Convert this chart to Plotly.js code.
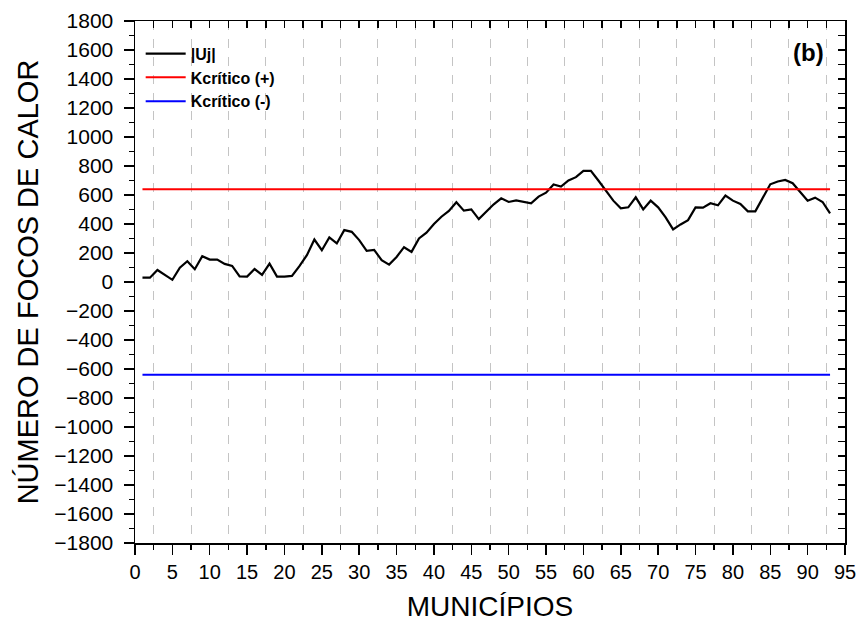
<!DOCTYPE html>
<html>
<head>
<meta charset="utf-8">
<script src="https://cdn.plot.ly/plotly-3.0.1.min.js"></script>
<style>
  html, body { margin: 0; padding: 0; background: #fff; }
  #chart { width: 859px; height: 625px; }
</style>
</head>
<body>
<div id="chart"></div>
<script>
// Municipality index (1..93)
const municipios = Array.from({length: 93}, (_, i) => i + 1);

// |Uj| statistic per municipality
const uj = [
  30, 30, 83, 46, 15, 99, 143, 88, 178, 155,
  155, 125, 111, 39, 37, 90, 49, 127, 37, 37,
  42, 109, 185, 293, 219, 307, 266, 358, 346, 289,
  215, 222, 150, 120, 173, 240, 208, 300, 340, 400,
  450, 490, 550, 492, 501, 434, 485, 536, 577, 552,
  563, 554, 543, 589, 616, 673, 658, 700, 723, 767,
  767, 700, 632, 561, 508, 515, 584, 501, 561, 515,
  446, 363, 397, 427, 514, 513, 543, 529, 596, 561,
  538, 487, 487, 577, 674, 693, 704, 681, 623, 561,
  582, 552, 474
];

// Critical value of the test (upper / lower bound)
const kCritico = 640;

// Series labels
const serieNames = ['|Uj|', 'Kcrítico (+)', 'Kcrítico (-)'];

const kPos = municipios.map(() => kCritico);
const kNeg = municipios.map(() => -kCritico);

const FONT = 'Liberation Sans, Arial, sans-serif';

const traces = [
  {x: municipios, y: uj, type: 'scatter', mode: 'lines', name: serieNames[0],
   line: {color: '#000000', width: 2.2}},
  {x: municipios, y: kPos, type: 'scatter', mode: 'lines', name: serieNames[1],
   line: {color: '#ff0000', width: 2}},
  {x: municipios, y: kNeg, type: 'scatter', mode: 'lines', name: serieNames[2],
   line: {color: '#0000ff', width: 2}},
  // carrier for the mirrored top/right tick axes
  {x: [], y: [], type: 'scatter', mode: 'lines', xaxis: 'x2', yaxis: 'y2',
   showlegend: false, hoverinfo: 'skip'}
];

const layout = {
  width: 859, height: 625,
  margin: {l: 135, r: 14, t: 21, b: 82},
  paper_bgcolor: '#ffffff', plot_bgcolor: '#ffffff',
  font: {family: FONT, color: '#000'},
  showlegend: true,
  legend: {
    x: 0.008, y: 0.97, xanchor: 'left', yanchor: 'top',
    bgcolor: 'rgba(0,0,0,0)', borderwidth: 0, itemwidth: 40,
    font: {family: FONT, size: 16, weight: 'bold', color: '#000'},
    tracegroupgap: 0
  },
  xaxis: {
    range: [0, 95], dtick: 5, tick0: 0,
    ticks: 'outside', ticklen: 10, tickwidth: 1.5, tickcolor: '#000',
    showline: true, linecolor: '#000', linewidth: 1.5, mirror: true,
    showgrid: false, zeroline: false,
    tickfont: {family: FONT, size: 20, color: '#000'},
    minor: {dtick: 2.5, tick0: 0, ticks: 'outside', ticklen: 5, tickwidth: 1.5,
            tickcolor: '#000', showgrid: true, gridcolor: '#c4c4c4',
            griddash: 'dash', gridwidth: 1},
    title: {text: 'MUNICÍPIOS', font: {family: FONT, size: 28, color: '#000'}, standoff: 15}
  },
  yaxis: {
    range: [-1800, 1800], dtick: 200, tick0: 0,
    ticks: 'outside', ticklen: 10, tickwidth: 1.5, tickcolor: '#000',
    showline: true, linecolor: '#000', linewidth: 1.5, mirror: true,
    showgrid: false, zeroline: false, ticklabelstandoff: 6,
    tickfont: {family: FONT, size: 21, color: '#000'},
    minor: {dtick: 100, tick0: 0, ticks: 'outside', ticklen: 5, tickwidth: 1.5,
            tickcolor: '#000', showgrid: false},
    title: {text: 'NÚMERO DE FOCOS DE CALOR', font: {family: FONT, size: 29, color: '#000'}, standoff: 7}
  },
  xaxis2: {
    overlaying: 'x', side: 'top', range: [0, 95], dtick: 2.5, tick0: 0,
    ticks: 'inside', ticklen: 7, tickwidth: 1.5, tickcolor: '#000',
    showticklabels: false, showline: false, showgrid: false, zeroline: false
  },
  yaxis2: {
    overlaying: 'y', side: 'right', range: [-1800, 1800], dtick: 100, tick0: 0,
    ticks: 'inside', ticklen: 7, tickwidth: 1.5, tickcolor: '#000',
    showticklabels: false, showline: false, showgrid: false, zeroline: false
  },
  annotations: [{
    xref: 'paper', yref: 'paper', x: 0.948, y: 0.94,
    xanchor: 'center', yanchor: 'middle', showarrow: false,
    text: '(b)', font: {family: FONT, size: 24, weight: 'bold', color: '#000'}
  }]
};

Plotly.newPlot('chart', traces, layout, {displayModeBar: false, staticPlot: true});
</script>
</body>
</html>
